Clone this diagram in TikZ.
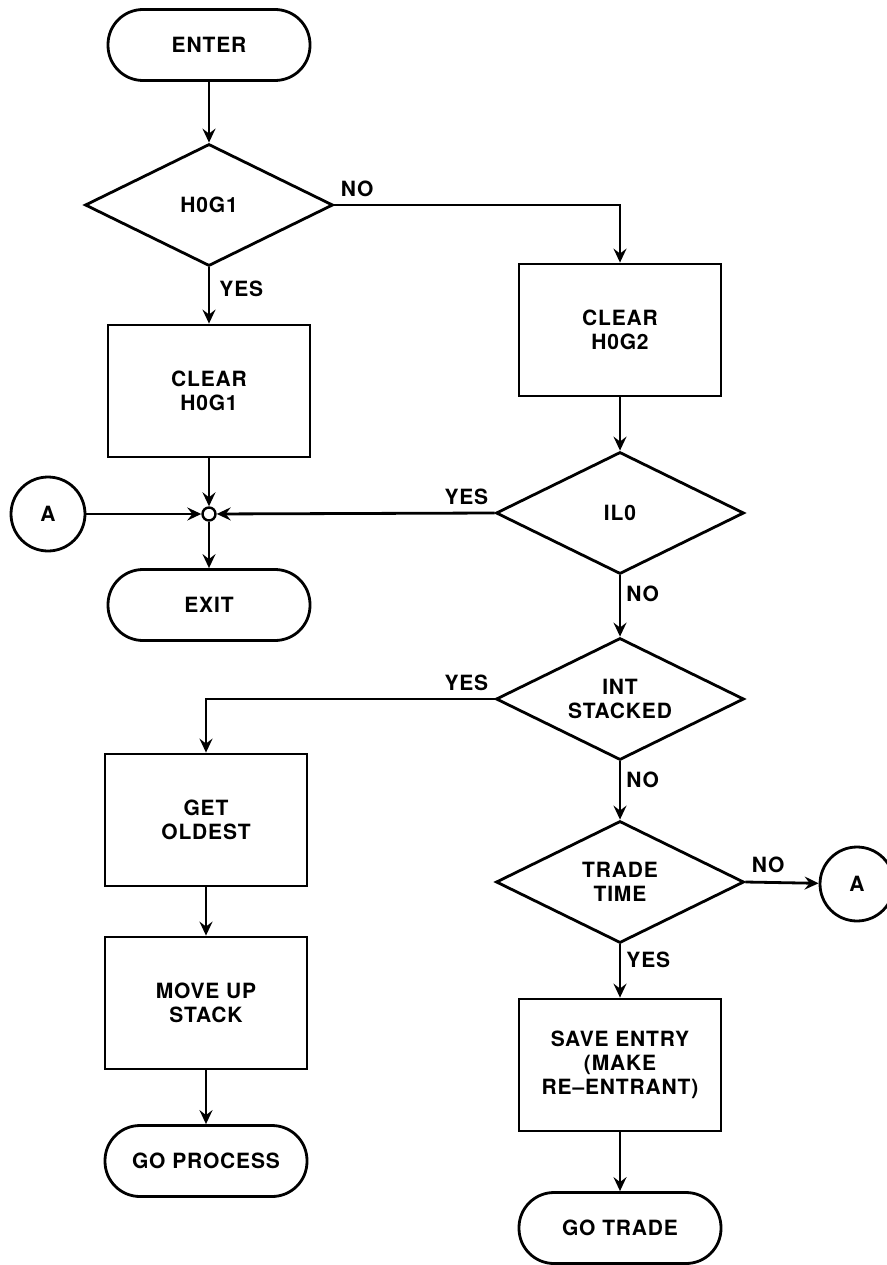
\documentclass[tikz,border=0pt]{standalone}
\usepackage{fontspec}
\setmainfont{TeX Gyre Heros}[LetterSpace=4]
\usetikzlibrary{arrows.meta,shapes.geometric}

\begin{document}
\begin{tikzpicture}[x=1pt,y=-1pt,line width=2.8pt,
  font=\fontsize{21}{24}\selectfont\bfseries,
  term/.style={rectangle,rounded corners=35pt,draw,minimum width=202pt,minimum height=71pt,inner sep=0pt},
  proc/.style={rectangle,draw,minimum width=202pt,minimum height=132pt,align=center,inner sep=0pt},
  dec/.style={diamond,aspect=2,draw,minimum width=248pt,minimum height=122pt,align=center,inner sep=0pt},
  conn/.style={circle,draw,minimum size=74pt,inner sep=0pt},
  jn/.style={circle,draw,minimum size=13pt,inner sep=0pt,line width=2.4pt},
  lbl/.style={inner sep=2pt},
  arr/.style={-{Stealth[length=14pt,width=13pt,inset=5pt]}}]
\useasboundingbox (0,0) rectangle (886,1265);
\node[term] (enter) at (209,45) {ENTER};
\node[dec] (hog1) at (209,205) {H0G1};
\node[proc] (clr1) at (209,391) {CLEAR\\H0G1};
\node[jn] (j) at (209,514) {};
\node[conn] (a1) at (48,514) {A};
\node[term] (exit) at (209,605) {EXIT};
\node[proc] (clr2) at (620,330) {CLEAR\\H0G2};
\node[dec] (ilo) at (620,513) {IL0};
\node[dec] (ints) at (620,699) {INT\\STACKED};
\node[proc] (old) at (206,820) {GET\\OLDEST};
\node[proc] (mov) at (206,1003) {MOVE UP\\STACK};
\node[term] (gop) at (206,1161) {GO PROCESS};
\node[dec] (trd) at (620,882) {TRADE\\TIME};
\node[conn] (a2) at (857,884) {A};
\node[proc] (save) at (620,1065) {SAVE ENTRY\\(MAKE\\RE--ENTRANT)};
\node[term] (got) at (620,1228) {GO TRADE};
\draw[arr] (enter) -- (hog1);
\draw[arr] (hog1) -- (clr1) node[lbl,pos=0,anchor=north west,xshift=7pt,yshift=-10pt] {YES};
\draw[arr] (hog1.east) -| (clr2.north) node[lbl,pos=0,anchor=south west,xshift=3pt,yshift=5pt] {NO};
\draw[arr] (clr2) -- (ilo);
\draw[arr] (clr1) -- (j);
\draw[arr] (a1) -- (j);
\draw[arr] (ilo.west) -- (j) node[lbl,pos=0,anchor=south east,xshift=-3pt,yshift=5pt] {YES};
\draw[arr] (j) -- (exit);
\draw[arr] (ilo) -- (ints) node[lbl,pos=0,anchor=north west,xshift=3pt,yshift=-7pt] {NO};
\draw[arr] (ints.west) -| (old.north) node[lbl,pos=0,anchor=south east,xshift=-3pt,yshift=5pt] {YES};
\draw[arr] (old) -- (mov);
\draw[arr] (mov) -- (gop);
\draw[arr] (ints) -- (trd) node[lbl,pos=0,anchor=north west,xshift=3pt,yshift=-7pt] {NO};
\draw[arr] (trd.east) -- (a2) node[lbl,pos=0,anchor=south west,xshift=3pt,yshift=6pt] {NO};
\draw[arr] (trd) -- (save) node[lbl,pos=0,anchor=north west,xshift=3pt,yshift=-4pt] {YES};
\draw[arr] (save) -- (got);
\end{tikzpicture}
\end{document}
